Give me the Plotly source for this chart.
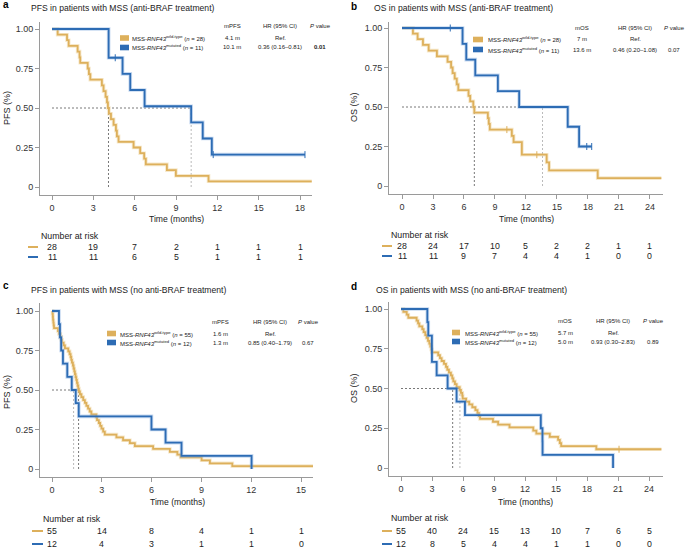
import plotly.graph_objects as go

W, H = 685, 548
FONT = "Liberation Sans, Arial, sans-serif"
GOLD = "#DDB05C"
GOLD_HALO = "rgba(235,205,140,0.45)"
BLUE = "#2D6CB4"
BLUE_HALO = "rgba(130,170,222,0.45)"
AX = "#9a9a9a"
TXT = "#222222"

# ---------------- data ----------------
# Panel a: PFS, anti-BRAF
a_wt_t = [0, 0.41, 1.09, 1.21, 1.86, 2.0, 2.05, 2.59, 2.68, 2.78, 3.62, 3.74, 3.89, 3.99, 4.06, 4.13,
          4.28, 4.47, 4.64, 4.71, 4.83, 5.92, 6.40, 6.69, 6.81, 8.34, 8.99, 11.36, 18.85]
a_wt_s = [1, 0.964, 0.929, 0.893, 0.857, 0.821, 0.786, 0.75, 0.714, 0.679, 0.643, 0.607, 0.571, 0.536, 0.5,
          0.464, 0.429, 0.393, 0.357, 0.321, 0.286, 0.25, 0.214, 0.179, 0.143, 0.107, 0.071, 0.036, 0.036]
a_wt_cens = []
a_mut_t = [0, 4.11, 5.12, 5.68, 6.72, 10.1, 10.94, 11.6, 18.36]
a_mut_s = [1, 0.818, 0.716, 0.614, 0.511, 0.409, 0.307, 0.205, 0.205]
a_mut_cens = [4.59, 11.7, 18.36]
a_medians = [4.1, 10.1]
a_ticks = [0, 3, 6, 9, 12, 15, 18]
a_risk_wt = [28, 19, 7, 2, 1, 1, 1]
a_risk_mut = [11, 11, 6, 5, 1, 1, 1]
a_stats = ["mPFS", "4.1 m", "10.1 m", "Ref.", "0.36 (0.16–0.81)", "<b>0.01</b>"]
a_n = [28, 11]

# Panel b: OS, anti-BRAF
b_wt_t = [0, 1.06, 1.51, 2.03, 2.58, 3.38, 4.41, 4.75, 4.9, 5.1, 5.3, 5.45, 6.44, 6.6, 6.9, 7.0,
          8.31, 8.4, 8.5, 10.63, 10.8, 11.6, 14.0, 14.24, 18.94, 25.1]
b_wt_s = [1, 0.964, 0.929, 0.893, 0.857, 0.821, 0.786, 0.75, 0.714, 0.679, 0.643, 0.607, 0.571, 0.536, 0.5,
          0.464, 0.429, 0.393, 0.357, 0.317, 0.278, 0.198, 0.149, 0.099, 0.050, 0.050]
b_wt_cens = [10.15, 13.05]
b_mut_t = [0, 5.86, 6.22, 7.09, 9.28, 11.34, 16.04, 17.14, 18.36]
b_mut_s = [1, 0.9, 0.8, 0.7, 0.6, 0.5, 0.375, 0.25, 0.25]
b_mut_cens = [4.67, 17.88, 18.36]
b_medians = [7.0, 13.6]
b_ticks = [0, 3, 6, 9, 12, 15, 18, 21, 24]
b_risk_wt = [28, 24, 17, 10, 5, 2, 2, 1, 1]
b_risk_mut = [11, 11, 9, 7, 4, 4, 1, 0, 0]
b_stats = ["mOS", "7 m", "13.6 m", "Ref.", "0.46 (0.20–1.08)", "0.07"]
b_n = [28, 11]

# Panel c: PFS, no anti-BRAF
c_wt_t = [0, 0.03, 0.05, 0.06, 0.08, 0.10, 0.12, 0.36, 0.42, 0.50, 0.56, 0.60, 0.70, 0.78, 0.98, 1.06,
          1.12, 1.16, 1.20, 1.26, 1.30, 1.34, 1.38, 1.42, 1.46, 1.50, 1.54, 1.58, 1.62, 1.68, 1.77, 1.88,
          1.98, 2.07, 2.17, 2.27, 2.37, 2.67, 2.71, 2.82, 2.90, 2.98, 3.08, 3.18, 3.88, 4.28, 4.69, 4.99,
          6.09, 7.10, 7.55, 7.75, 9.01, 9.51, 10.86, 15.75]
c_wt_s = [1, 0.982, 0.964, 0.945, 0.927, 0.909, 0.891, 0.873, 0.855, 0.836, 0.818, 0.800, 0.782, 0.764,
          0.745, 0.727, 0.709, 0.691, 0.673, 0.655, 0.636, 0.618, 0.600, 0.582, 0.564, 0.545, 0.527, 0.509,
          0.491, 0.473, 0.455, 0.436, 0.418, 0.400, 0.382, 0.364, 0.345, 0.327, 0.309, 0.291, 0.273, 0.255,
          0.236, 0.218, 0.200, 0.182, 0.164, 0.145, 0.127, 0.109, 0.091, 0.073, 0.055, 0.036, 0.018, 0.018]
c_wt_cens = []
c_mut_t = [0, 0.42, 0.48, 0.55, 0.66, 0.92, 1.19, 1.43, 1.61, 5.99, 6.84, 7.80, 12.02]
c_mut_s = [1, 0.917, 0.833, 0.75, 0.667, 0.583, 0.5, 0.417, 0.333, 0.25, 0.167, 0.083, 0]
c_mut_cens = []
c_medians = [1.6, 1.3]
c_ticks = [0, 3, 6, 9, 12, 15]
c_risk_wt = [55, 14, 8, 4, 1, 1]
c_risk_mut = [12, 4, 3, 1, 1, 0]
c_stats = ["mPFS", "1.6 m", "1.3 m", "Ref.", "0.85 (0.40–1.79)", "0.67"]
c_n = [55, 12]

# Panel d: OS, no anti-BRAF
d_wt_t = [0, 0.23, 0.55, 0.71, 1.51, 1.65, 1.77, 2.06, 2.19, 2.35, 2.48, 2.61, 2.74, 2.84, 2.93, 2.98,
          3.6, 3.77, 3.93, 4.16, 4.35, 4.48, 4.64, 4.83, 4.96, 5.06, 5.22, 5.38, 5.68, 5.8, 5.93, 5.97,
          6.3, 6.6, 6.9, 7.2, 7.4, 7.55, 7.65, 8.9, 9.4, 10.5, 12.8, 13.1, 14.4, 15.2, 15.37, 15.5, 18.9, 25.2]
d_wt_s = [1, 0.982, 0.964, 0.945, 0.927, 0.909, 0.891, 0.873, 0.855, 0.836, 0.818, 0.800, 0.782, 0.764,
          0.745, 0.727, 0.709, 0.691, 0.673, 0.655, 0.636, 0.618, 0.600, 0.582, 0.564, 0.545, 0.527, 0.509,
          0.491, 0.473, 0.455, 0.436, 0.418, 0.400, 0.382, 0.364, 0.345, 0.327, 0.309, 0.291, 0.273, 0.255,
          0.235, 0.216, 0.196, 0.177, 0.157, 0.137, 0.118, 0.118]
d_wt_cens = [21.1]
d_mut_t = [0, 2.55, 2.64, 2.99, 2.995, 3.45, 4.51, 5.38, 6.19, 13.53, 13.69, 13.70, 20.52]
d_mut_s = [1, 0.917, 0.833, 0.75, 0.667, 0.583, 0.5, 0.417, 0.333, 0.25, 0.167, 0.083, 0]
d_mut_cens = []
d_medians = [5.7, 5.0]
d_ticks = [0, 3, 6, 9, 12, 15, 18, 21, 24]
d_risk_wt = [55, 40, 24, 15, 13, 10, 7, 6, 5]
d_risk_mut = [12, 8, 5, 4, 4, 1, 1, 0, 0]
d_stats = ["mOS", "5.7 m", "5.0 m", "Ref.", "0.93 (0.30–2.83)", "0.89"]
d_n = [55, 12]

titles = ["PFS in patients with MSS (anti-BRAF treatment)",
          "OS in patients with MSS (anti-BRAF treatment)",
          "PFS in patients with MSS (no anti-BRAF treatment)",
          "OS in patients with MSS (no anti-BRAF treatment)"]
ytitles = ["PFS (%)", "OS (%)", "PFS (%)", "OS (%)"]
letters = ["a", "b", "c", "d"]


def px(x):
    return x / W


def py(y):
    return 1 - y / H


def surv_at(t_arr, s_arr, tc):
    val = s_arr[0]
    for t, s in zip(t_arr, s_arr):
        if t <= tc:
            val = s
    return val


# ---------------- layout config (pixel positions) ----------------
P = [
    dict(key="", data=(a_wt_t, a_wt_s, a_wt_cens, a_mut_t, a_mut_s, a_mut_cens), med=a_medians,
         ticks=a_ticks, rw=a_risk_wt, rm=a_risk_mut, stats=a_stats, n=a_n,
         xd=(40, 312), yd=(22, 195), xr=(-0.871, 18.87), yr=(-0.0506, 1.0443),
         letter=(1, 5), title=(29, 8), ytl=(7, 108), xtl=(176, 219),
         nar=(39, 236), rows=(247, 257), dash=(28, 38),
         sw=(120, 129), rowy=(38, 47.5), txt=130, hdr=26, cols=(232, 280, 320),
         vcol=("#555555", "#a8a8a8")),
    dict(key="2", data=(b_wt_t, b_wt_s, b_wt_cens, b_mut_t, b_mut_s, b_mut_cens), med=b_medians,
         ticks=b_ticks, rw=b_risk_wt, rm=b_risk_mut, stats=b_stats, n=b_n,
         xd=(389, 663), yd=(22, 194), xr=(-1.258, 25.26), yr=(-0.0506, 1.038),
         letter=(349, 6), title=(372, 8), ytl=(354, 107), xtl=(526, 219),
         nar=(389, 235), rows=(246, 256), dash=(382, 392),
         sw=(473, 483), rowy=(39.5, 49.5), txt=486, hdr=28, cols=(582, 635, 674),
         vcol=("#555555", "#a8a8a8")),
    dict(key="3", data=(c_wt_t, c_wt_s, c_wt_cens, c_mut_t, c_mut_s, c_mut_cens), med=c_medians,
         ticks=c_ticks, rw=c_risk_wt, rm=c_risk_mut, stats=c_stats, n=c_n,
         xd=(40, 313), yd=(303, 477), xr=(-0.723, 15.72), yr=(-0.0506, 1.0506),
         letter=(1, 285), title=(29, 290), ytl=(7, 392), xtl=(177, 502),
         nar=(41, 519), rows=(531, 544), dash=(32, 43),
         sw=(107, 116), rowy=(333.5, 342.5), txt=118, hdr=322, cols=(220, 270, 308),
         vcol=("#555555", "#a8a8a8")),
    dict(key="4", data=(d_wt_t, d_wt_s, d_wt_cens, d_mut_t, d_mut_s, d_mut_cens), med=d_medians,
         ticks=d_ticks, rw=d_risk_wt, rm=d_risk_mut, stats=d_stats, n=d_n,
         xd=(389, 663), yd=(302, 476), xr=(-1.161, 25.355), yr=(-0.0503, 1.044),
         letter=(349, 286), title=(374, 290), ytl=(354, 388), xtl=(525, 502),
         nar=(389, 518), rows=(531, 544), dash=(382, 392),
         sw=(452, 460), rowy=(332.5, 341.5), txt=463, hdr=321, cols=(565, 613, 653),
         vcol=("#a8a8a8", "#555555")),
]

fig = go.Figure()
shapes = []
annots = []
layout_axes = {}

for i, p in enumerate(P):
    k = p["key"]
    xa, ya = "x" + k, "y" + k
    wt_t, wt_s, wt_c, mt_t, mt_s, mt_c = p["data"]

    # median reference lines
    m_wt, m_mut = p["med"]
    shapes.append(dict(type="line", xref=xa, yref=ya, x0=0, x1=max(m_wt, m_mut), y0=0.5, y1=0.5,
                       line=dict(color="#555555", width=0.8, dash="2px,2px"), layer="below"))
    shapes.append(dict(type="line", xref=xa, yref=ya, x0=m_wt, x1=m_wt, y0=0, y1=0.5,
                       line=dict(color=p["vcol"][0], width=0.8, dash="2px,2px"), layer="below"))
    shapes.append(dict(type="line", xref=xa, yref=ya, x0=m_mut, x1=m_mut, y0=0, y1=0.5,
                       line=dict(color=p["vcol"][1], width=0.8, dash="2px,2px"), layer="below"))

    # curves
    for (tt, ss, cc, col, halo) in [(wt_t, wt_s, wt_c, GOLD, GOLD_HALO), (mt_t, mt_s, mt_c, BLUE, BLUE_HALO)]:
        fig.add_trace(go.Scatter(x=tt, y=ss, mode="lines", xaxis=xa, yaxis=ya,
                                 line=dict(shape="hv", width=3.6, color=halo),
                                 hoverinfo="skip", showlegend=False))
        fig.add_trace(go.Scatter(x=tt, y=ss, mode="lines", xaxis=xa, yaxis=ya,
                                 line=dict(shape="hv", width=1.8, color=col),
                                 showlegend=False))
        if cc:
            fig.add_trace(go.Scatter(x=cc, y=[surv_at(tt, ss, c) for c in cc], mode="markers",
                                     xaxis=xa, yaxis=ya,
                                     marker=dict(symbol="line-ns-open", size=5, color=col,
                                                 line=dict(width=1, color=col)),
                                     showlegend=False, hoverinfo="skip"))

    # axes
    axcommon = dict(showline=True, linecolor=AX, linewidth=1, ticks="outside", ticklen=4,
                    tickwidth=1, tickcolor=AX, showgrid=False, zeroline=False,
                    tickfont=dict(size=9, color="#333333", family=FONT))
    layout_axes["xaxis" + k] = dict(axcommon, domain=[px(p["xd"][0]), px(p["xd"][1])],
                                    range=list(p["xr"]), anchor=ya, tickvals=p["ticks"],
                                    ticktext=[str(t) for t in p["ticks"]])
    layout_axes["yaxis" + k] = dict(axcommon, domain=[py(p["yd"][1]), py(p["yd"][0])],
                                    range=list(p["yr"]), anchor=xa,
                                    tickvals=[0, 0.25, 0.5, 0.75, 1],
                                    ticktext=["0", "0.25", "0.50", "0.75", "1.00"])

    # letter + title
    annots.append(dict(text="<b>%s</b>" % letters[i], x=px(p["letter"][0]), y=py(p["letter"][1]),
                       xref="paper", yref="paper", xanchor="left", yanchor="middle", showarrow=False,
                       font=dict(size=10, color="#000", family=FONT)))
    annots.append(dict(text=titles[i], x=px(p["title"][0]), y=py(p["title"][1]),
                       xref="paper", yref="paper", xanchor="left", yanchor="middle", showarrow=False,
                       font=dict(size=8.6, color=TXT, family=FONT)))
    annots.append(dict(text=ytitles[i], x=px(p["ytl"][0]), y=py(p["ytl"][1]), textangle=-90,
                       xref="paper", yref="paper", xanchor="center", yanchor="middle", showarrow=False,
                       font=dict(size=9, color=TXT, family=FONT)))
    annots.append(dict(text="Time (months)", x=px(p["xtl"][0]), y=py(p["xtl"][1]),
                       xref="paper", yref="paper", xanchor="center", yanchor="middle", showarrow=False,
                       font=dict(size=8.6, color=TXT, family=FONT)))

    # number at risk
    annots.append(dict(text="Number at risk", x=px(p["nar"][0]), y=py(p["nar"][1]),
                       xref="paper", yref="paper", xanchor="left", yanchor="middle", showarrow=False,
                       font=dict(size=8.8, color=TXT, family=FONT)))
    for row_y, vals, col in [(p["rows"][0], p["rw"], GOLD), (p["rows"][1], p["rm"], BLUE)]:
        shapes.append(dict(type="line", xref="paper", yref="paper", x0=px(p["dash"][0]),
                           x1=px(p["dash"][1]), y0=py(row_y), y1=py(row_y),
                           line=dict(color=col, width=2)))
        for t, v in zip(p["ticks"], vals):
            annots.append(dict(text=str(v), x=t, y=py(row_y), xref=xa, yref="paper",
                               xanchor="center", yanchor="middle", showarrow=False,
                               font=dict(size=8.8, color=TXT, family=FONT)))

    # in-plot legend + stats
    labels = ["MSS-<i>RNF43</i><sup>wild-type</sup> (<i>n</i> = %d)" % p["n"][0],
              "MSS-<i>RNF43</i><sup>mutated</sup> (<i>n</i> = %d)" % p["n"][1]]
    for j, (col, lab) in enumerate([(GOLD, labels[0]), (BLUE, labels[1])]):
        ry = p["rowy"][j]
        shapes.append(dict(type="rect", xref="paper", yref="paper", x0=px(p["sw"][0]), x1=px(p["sw"][1]),
                           y0=py(ry + 2.8), y1=py(ry - 2.8), fillcolor=col, line=dict(width=0)))
        annots.append(dict(text=lab, x=px(p["txt"]), y=py(ry), xref="paper", yref="paper",
                           xanchor="left", yanchor="middle", showarrow=False,
                           font=dict(size=6, color=TXT, family=FONT)))
    st = p["stats"]
    c1, c2, c3 = p["cols"]
    cells = [(st[0], c1, p["hdr"]), ("HR (95% CI)", c2, p["hdr"]), ("<i>P</i> value", c3, p["hdr"]),
             (st[1], c1, p["rowy"][0]), (st[2], c1, p["rowy"][1]),
             (st[3], c2, p["rowy"][0]), (st[4], c2, p["rowy"][1]),
             (st[5], c3, p["rowy"][1])]
    for txt, cx, cy in cells:
        annots.append(dict(text=txt, x=px(cx), y=py(cy), xref="paper", yref="paper",
                           xanchor="center", yanchor="middle", showarrow=False,
                           font=dict(size=6, color=TXT, family=FONT)))

fig.update_layout(width=W, height=H, margin=dict(l=0, r=0, t=0, b=0),
                  paper_bgcolor="white", plot_bgcolor="white",
                  font=dict(family=FONT, color=TXT), showlegend=False,
                  shapes=shapes, annotations=annots, **layout_axes)

fig.write_html("out.html", config={"displayModeBar": False, "staticPlot": True},
               post_script="document.body.style.margin='0';document.body.style.overflow='hidden';")
